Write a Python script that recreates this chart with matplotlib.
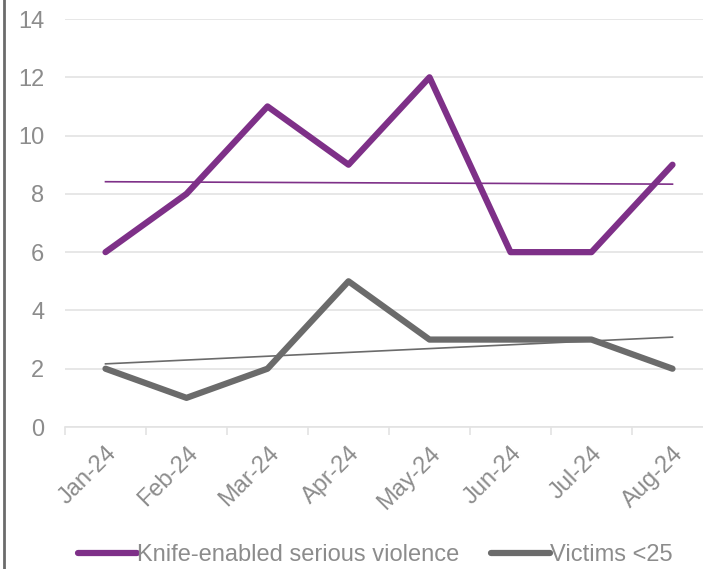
import numpy as np
import matplotlib.pyplot as plt
from matplotlib.lines import Line2D

months = ['Jan-24', 'Feb-24', 'Mar-24', 'Apr-24', 'May-24', 'Jun-24', 'Jul-24', 'Aug-24']
knife = [6, 8, 11, 9, 12, 6, 6, 9]
victims = [2, 1, 2, 5, 3, 3, 3, 2]

purple = '#7E3088'
grey = '#6B6B6B'
text_col = '#8C8C8C'
fs = 17

plt.rcParams['font.family'] = ['Liberation Sans', 'DejaVu Sans']

fig = plt.figure(figsize=(7.03, 5.69), dpi=100)
# axes runs a bit past the right edge, like the original
ax = fig.add_axes([65 / 703, 1 - 427 / 569, 648 / 703, 408 / 569])

x = np.arange(len(months))
ax.plot(x, knife, color=purple, lw=4.5, solid_joinstyle='round', solid_capstyle='round', zorder=3)
ax.plot(x, victims, color=grey, lw=4.5, solid_joinstyle='round', solid_capstyle='round', zorder=3)

# linear trendlines
for vals, c in [(knife, purple), (victims, grey)]:
    m, b = np.polyfit(x, vals, 1)
    ax.plot(x, m * x + b, color=c, lw=1.2, zorder=4)

ax.set_xlim(-0.5, len(months) - 0.5)
ax.set_ylim(0, 14)
ax.set_yticks(range(0, 15, 2))
ax.yaxis.grid(True, color='#E3E3E3', lw=1.2)
ax.set_axisbelow(True)
for s in ['top', 'right', 'left']:
    ax.spines[s].set_visible(False)
ax.spines['bottom'].set_color('#E3E3E3')
ax.spines['bottom'].set_linewidth(1.2)

ax.set_xticks(np.arange(-0.5, len(months), 1), minor=False)
ax.set_xticklabels([])
ax.tick_params(axis='x', which='major', length=6, color='#E3E3E3', width=1.2)
ax.set_xticks(x, minor=True)
ax.set_xticklabels(months, minor=True, rotation=45, ha='right', rotation_mode='anchor')
ax.tick_params(axis='x', which='minor', length=0, pad=11, labelsize=fs, labelcolor=text_col)
ax.tick_params(axis='y', length=0, pad=15, labelsize=fs, labelcolor=text_col)

handles = [Line2D([], [], color=purple, lw=4.5, solid_capstyle='round'),
           Line2D([], [], color=grey, lw=4.5, solid_capstyle='round')]
fig.legend(handles, ['Knife-enabled serious violence', 'Victims <25'],
           loc='center', bbox_to_anchor=(375 / 703, 1 - 555 / 569), ncol=2, frameon=False,
           fontsize=fs, labelcolor=text_col, handlelength=2.5, handletextpad=0.0,
           columnspacing=1.35)

# left border line
fig.add_artist(Line2D([4 / 703, 4 / 703], [0, 1], color='#6B6B6B', lw=2, transform=fig.transFigure))

fig.savefig('out.png', dpi=100)
